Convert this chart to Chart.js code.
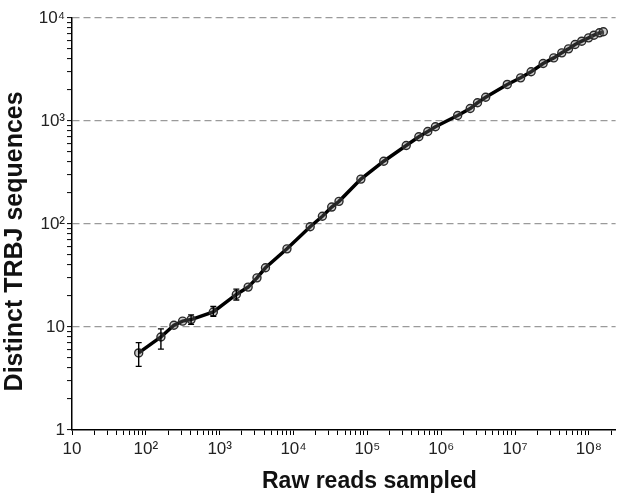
<!DOCTYPE html>
<html>
<head>
<meta charset="utf-8">
<script src="https://cdn.jsdelivr.net/npm/chart.js@4"></script>
<style>
  body { margin: 0; background: #fff; }
  #wrap { width: 621px; height: 495px; }
</style>
</head>
<body>
<div id="wrap"><canvas id="rarefaction" width="621" height="495"></canvas></div>
<script>
// raw reads sampled (x) and distinct TRBJ sequences (y)
const reads = [80, 160, 240, 315, 410, 820, 1680, 2430, 3200, 4170, 8150,
  16800, 24600, 32900, 41300, 81700, 166700, 336000, 498000, 658000, 835000,
  1670000, 2470000, 3100000, 4000000, 7850000, 11900000, 16500000, 24000000,
  33400000, 43000000, 53000000, 65000000, 80000000, 99000000, 117000000,
  139000000, 157000000];
const distinct = [5.6, 8.0, 10.4, 11.4, 11.8, 14.0, 20.7, 24.4, 30.0, 37.6, 57.4,
  94, 119, 146, 166, 273, 407, 578, 703, 791, 879,
  1130, 1322, 1503, 1702, 2265, 2625, 3005, 3615,
  4100, 4590, 5015, 5530, 5955, 6415, 6810,
  7180, 7350];
// error bar ends (only the low-depth samples show visible bars)
const errLow  = [4.15, 6.1, null, null, 10.6, 12.7, 18.3];
const errHigh = [7.05, 9.6, null, null, 13.1, 15.8, 23.3];

const xMajor = [10, 1e2, 1e3, 1e4, 1e5, 1e6, 1e7, 1e8];
const xLabels = ['10', '10²', '10³', '10⁴', '10⁵', '10⁶', '10⁷', '10⁸'];
const yMajor = [1, 10, 1e2, 1e3, 1e4];
const yLabels = ['1', '10', '10²', '10³', '10⁴'];

const FONT = "'Liberation Sans', Arial, sans-serif";

function withMinors(majors, max) {
  const out = [];
  majors.forEach(m => {
    for (let k = 1; k <= 9; k++) {
      const v = m * k;
      if (v <= max) out.push({ value: v });
    }
  });
  return out;
}
const isMajor = v => Math.abs(Math.log10(v) - Math.round(Math.log10(v))) < 1e-9;

const errorBars = {
  id: 'errorBars',
  afterDatasetsDraw(chart) {
    const { ctx, scales: { x, y } } = chart;
    ctx.save();
    ctx.strokeStyle = '#000';
    ctx.lineWidth = 1.4;
    errLow.forEach((lo, i) => {
      const hi = errHigh[i];
      if (lo == null || hi == null) return;
      const px = x.getPixelForValue(reads[i]);
      const top = y.getPixelForValue(hi), bot = y.getPixelForValue(lo);
      ctx.beginPath();
      ctx.moveTo(px, top); ctx.lineTo(px, bot);
      ctx.moveTo(px - 3, top); ctx.lineTo(px + 3, top);
      ctx.moveTo(px - 3, bot); ctx.lineTo(px + 3, bot);
      ctx.stroke();
    });
    ctx.restore();
  }
};

const ctx = document.getElementById('rarefaction').getContext('2d');
new Chart(ctx, {
  type: 'line',
  data: {
    datasets: [{
      data: reads.map((r, i) => ({ x: r, y: distinct[i] })),
      borderColor: '#000',
      borderWidth: 3.5,
      pointRadius: 4,
      pointBorderWidth: 1.4,
      pointBorderColor: '#2a2a2a',
      pointBackgroundColor: 'rgba(110,110,110,0.35)',
      tension: 0,
      fill: false
    }]
  },
  options: {
    responsive: false,
    animation: false,
    layout: { padding: { top: 18, right: 2, left: 0, bottom: 0 } },
    plugins: { legend: { display: false }, tooltip: { enabled: false } },
    scales: {
      x: {
        type: 'logarithmic',
        min: 10,
        max: 2.3e8,
        afterBuildTicks: s => { s.ticks = withMinors(xMajor, 2.3e8); },
        afterFit: s => { s.height = 65; },
        grid: { drawOnChartArea: false, tickColor: '#000', tickLength: 5, tickWidth: 1 },
        border: { color: '#000', width: 1.5 },
        ticks: {
          autoSkip: false, maxRotation: 0, padding: 4,
          color: '#222', font: { family: FONT, size: 17 },
          callback: v => { const i = xMajor.indexOf(v); return i >= 0 ? xLabels[i] : ''; }
        },
        title: {
          display: true, text: '        Raw reads sampled', color: '#111',
          font: { family: FONT, size: 23, weight: 'bold' }, padding: { top: 0, bottom: 0 }
        }
      },
      y: {
        type: 'logarithmic',
        min: 1,
        max: 1e4,
        afterBuildTicks: s => { s.ticks = withMinors(yMajor, 1e4); },
        afterFit: s => { s.width = 72; },
        grid: {
          color: c => (c.tick && isMajor(c.tick.value) && c.tick.value > 1) ? '#9a9a9a' : 'rgba(0,0,0,0)',
          lineWidth: 1.2,
          tickColor: '#000', tickLength: 5, tickWidth: 1
        },
        border: { color: '#000', width: 1.5, dash: [7, 4] },
        ticks: {
          autoSkip: false, padding: 2,
          color: '#222', font: { family: FONT, size: 17 },
          callback: v => { const i = yMajor.indexOf(v); return i >= 0 ? yLabels[i] : ''; }
        },
        title: {
          display: true, text: 'Distinct TRBJ sequences     ', color: '#111',
          font: { family: FONT, size: 25, weight: 'bold' }, padding: { top: 0, bottom: 0 }
        }
      }
    }
  },
  plugins: [errorBars]
});
</script>
</body>
</html>
